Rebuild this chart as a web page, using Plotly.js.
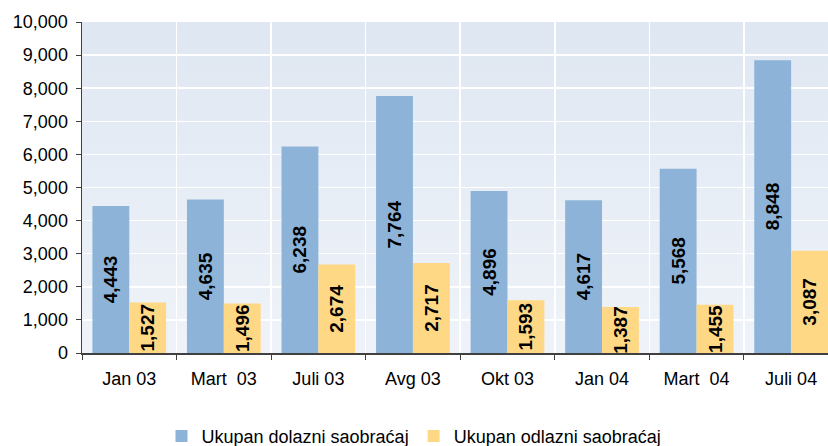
<!DOCTYPE html>
<html>
<head>
<meta charset="utf-8">
<script src="https://cdn.plot.ly/plotly-3.0.1.min.js"></script>
<style>html,body{margin:0;padding:0;background:#fff;overflow:hidden}#chart{width:828px;height:446px}</style>
</head>
<body>
<div id="chart"></div>
<script>
var categories = ["Jan 03", "Mart  03", "Juli 03", "Avg 03", "Okt 03", "Jan 04", "Mart  04", "Juli 04"];
var dolazni = [4443, 4635, 6238, 7764, 4896, 4617, 5568, 8848];
var odlazni = [1527, 1496, 2674, 2717, 1593, 1387, 1455, 3087];
var seriesNames = ["Ukupan dolazni saobraćaj", "Ukupan odlazni saobraćaj"];
var yTickVals = [0, 1000, 2000, 3000, 4000, 5000, 6000, 7000, 8000, 9000, 10000];

function fmt(v){ return v.toLocaleString('en-US'); }

var font = "Liberation Sans, Arial, sans-serif";
var labelFont = {family: font, size: 19, color: "#000", weight: "bold"};

var t1 = {
  type: "bar", x: categories, y: dolazni, name: seriesNames[0],
  marker: {color: "#8DB4D8", line: {width: 0}},
  text: dolazni.map(fmt), textposition: "inside", insidetextanchor: "middle",
  textangle: -90, constraintext: "none", textfont: labelFont, insidetextfont: labelFont,
  hoverinfo: "skip"
};
var t2 = {
  type: "bar", x: categories, y: odlazni, name: seriesNames[1],
  marker: {color: "#FFD885", line: {width: 0}},
  text: odlazni.map(fmt), textposition: "inside", insidetextanchor: "middle",
  textangle: -90, constraintext: "none", textfont: labelFont, insidetextfont: labelFont,
  hoverinfo: "skip"
};

var svg = '<svg xmlns="http://www.w3.org/2000/svg" width="100" height="100" preserveAspectRatio="none">' +
  '<defs><linearGradient id="g" x1="0" y1="0" x2="0" y2="1">' +
  '<stop offset="0" stop-color="#DFE7F2"/><stop offset="1" stop-color="#EFF3F9"/></linearGradient></defs>' +
  '<rect width="100" height="100" fill="url(#g)"/></svg>';
var bgImg = "data:image/svg+xml;base64," + btoa(svg);

var layout = {
  width: 828, height: 446,
  margin: {l: 82, r: 0, t: 22, b: 93},
  paper_bgcolor: "#fff",
  plot_bgcolor: "rgba(0,0,0,0)",
  barmode: "group", bargap: 0.22, bargroupgap: 0,
  font: {family: font, size: 18, color: "#000"},
  showlegend: true,
  legend: {orientation: "h", xref: "container", yref: "container", x: 0.5, xanchor: "center",
           y: 0.022, yanchor: "middle", font: {family: font, size: 18, color: "#000"},
           itemwidth: 30, tracegroupgap: 0, traceorder: "normal", bgcolor: "rgba(0,0,0,0)"},
  xaxis: {
    type: "category", range: [-0.5, 7.39], tickson: "boundaries",
    ticks: "outside", ticklen: 5, tickcolor: "#404040", tickwidth: 1,
    showgrid: true, gridcolor: "#FFFFFF", gridwidth: 1.5,
    showline: true, linecolor: "#404040", linewidth: 1.5,
    tickfont: {family: font, size: 18, color: "#000"}, ticklabelstandoff: 9,
    fixedrange: true
  },
  yaxis: {
    range: [0, 10000], tickvals: yTickVals, ticktext: yTickVals.map(fmt),
    ticks: "outside", ticklen: 5, tickcolor: "#404040", tickwidth: 1,
    showgrid: true, gridcolor: "#FFFFFF", gridwidth: 1.5, zeroline: false,
    showline: true, linecolor: "#404040", linewidth: 1.5,
    tickfont: {family: font, size: 18, color: "#000"}, ticklabelstandoff: 4,
    fixedrange: true
  },
  images: [{source: bgImg, xref: "paper", yref: "paper", x: 0, y: 1, sizex: 1, sizey: 1,
            sizing: "stretch", layer: "below", xanchor: "left", yanchor: "top"}]
};

Plotly.newPlot("chart", [t1, t2], layout, {displayModeBar: false, staticPlot: true});
</script>
</body>
</html>
